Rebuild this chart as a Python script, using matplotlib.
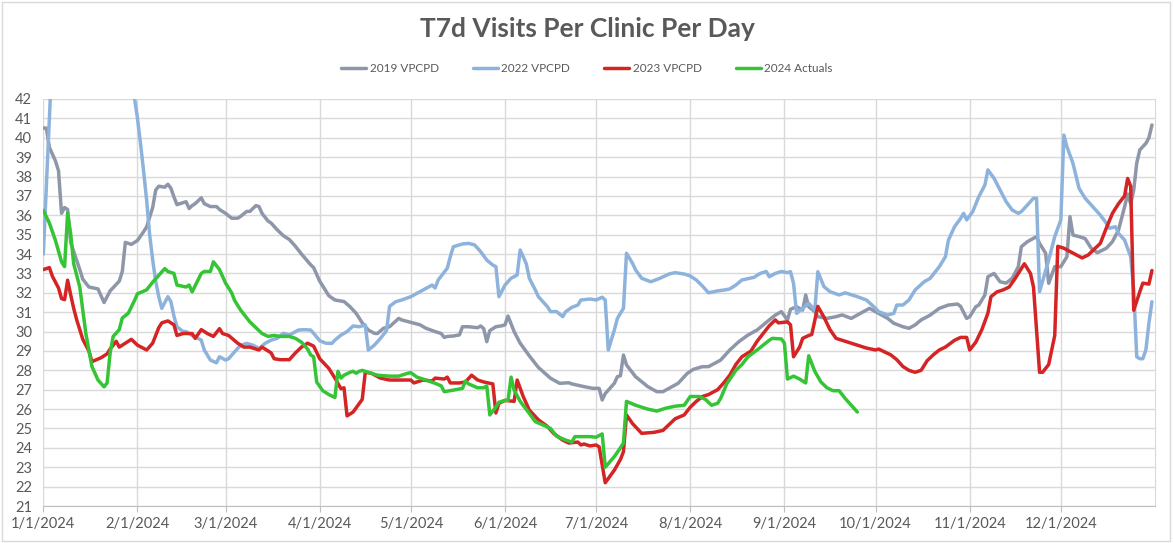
import numpy as np
import matplotlib
matplotlib.use("Agg")
import matplotlib.pyplot as plt
from matplotlib import font_manager
from matplotlib.patches import Rectangle

# days since 1/1/2024 and values
days_2019 = [0, 1, 2, 4, 5, 6, 7, 8, 9, 12, 13, 15, 18, 20, 22, 25, 26, 27, 29, 31, 33, 34, 36, 37, 38, 40,
             41, 42, 43, 44, 47, 48, 49, 50, 52, 53, 55, 57, 58, 60, 62, 64, 65, 67, 68, 70, 71, 72, 74, 75,
             77, 79, 81, 83, 85, 88, 89, 91, 94, 96, 99, 101, 103, 105, 107, 109, 110, 112, 114, 117, 118,
             122, 124, 126, 129, 131, 132, 133, 135, 137, 138, 140, 143, 144, 145, 146, 147, 149, 151, 152,
             153, 155, 157, 160, 163, 167, 170, 173, 174, 178, 181, 183, 184, 185, 188, 189, 190, 191, 192,
             195, 199, 202, 204, 207, 209, 212, 214, 217, 219, 223, 226, 229, 232, 235, 237, 239, 241, 243,
             245, 246, 248, 250, 251, 252, 254, 255, 258, 261, 263, 266, 269, 272, 275, 278, 280, 283, 285,
             287, 289, 292, 295, 298, 301, 302, 304, 305, 307, 308, 310, 311, 313, 315, 317, 319, 321, 322,
             324, 327, 328, 330, 331, 333, 335, 337, 338, 339, 341, 343, 345, 347, 350, 352, 354, 356, 357,
             358, 359, 360, 361, 363, 364, 365]
vals_2019 = [40.5, 40.5, 39.5, 38.8, 38.3, 36.1, 36.4, 36.3, 34.6, 33.2, 32.7, 32.3, 32.2, 31.5, 32.1, 32.6,
             33.1, 34.6, 34.5, 34.7, 35.15, 35.4, 36.4, 37.3, 37.5, 37.45, 37.6, 37.4, 36.95, 36.55, 36.7,
             36.35, 36.5, 36.6, 36.9, 36.6, 36.45, 36.45, 36.3, 36.1, 35.85, 35.85, 35.95, 36.2, 36.2, 36.5,
             36.45, 36.1, 35.7, 35.6, 35.25, 34.95, 34.75, 34.4, 34.0, 33.45, 33.3, 32.6, 31.85, 31.63, 31.55,
             31.28, 30.94, 30.45, 30.08, 29.91, 29.9, 30.17, 30.25, 30.68, 30.6, 30.43, 30.35, 30.17, 30.0,
             29.9, 29.7, 29.75, 29.77, 29.83, 30.25, 30.25, 30.2, 30.29, 30.15, 29.48, 30.05, 30.25, 30.3,
             30.35, 30.8, 30.0, 29.4, 28.75, 28.15, 27.59, 27.33, 27.36, 27.3, 27.16, 27.07, 27.07, 26.47,
             26.8, 27.33, 27.67, 27.72, 28.79, 28.28, 27.67, 27.16, 26.9, 26.9, 27.16, 27.33, 27.84, 28.05,
             28.19, 28.19, 28.53, 29.05, 29.48, 29.82, 30.08, 30.34, 30.6, 30.85, 31.03, 30.6, 31.15, 31.28,
             31.11, 31.89, 31.28, 31.03, 30.77, 30.68, 30.77, 30.86, 30.68, 30.94, 31.2, 30.94, 30.68, 30.43,
             30.25, 30.17, 30.34, 30.6, 30.85, 31.2, 31.37, 31.42, 31.3, 30.68, 30.77, 31.28, 31.37, 31.89,
             32.83, 33.0, 32.57, 32.5, 32.75, 33.35, 34.38, 34.64, 34.9, 34.55, 34.04, 32.49, 33.35, 33.35,
             33.86, 35.93, 34.98, 34.9, 34.8, 34.3, 34.07, 34.3, 34.64, 35.24, 36.44, 37.1, 36.6, 37.3, 38.7,
             39.37, 39.71, 40.0, 40.66]

days_2022 = [0, 3, 15, 28, 31, 32, 33, 34, 35, 36, 37, 38, 39, 41, 42, 43, 44, 46, 47, 49, 52, 53, 55, 57,
             58, 60, 61, 63, 65, 67, 69, 71, 73, 75, 77, 79, 81, 84, 86, 88, 89, 91, 93, 95, 96, 98, 100,
             102, 104, 106, 107, 109, 111, 113, 114, 116, 118, 121, 123, 126, 128, 129, 130, 133, 134, 135,
             138, 140, 142, 144, 146, 148, 149, 150, 152, 154, 156, 157, 159, 160, 162, 163, 166, 167, 169,
             171, 172, 174, 176, 177, 180, 182, 184, 185, 186, 188, 189, 191, 192, 194, 195, 197, 200, 203,
             206, 208, 211, 213, 215, 217, 219, 222, 224, 226, 228, 230, 234, 236, 238, 239, 241, 243, 245,
             246, 247, 248, 250, 252, 254, 255, 257, 259, 262, 264, 268, 271, 274, 275, 278, 280, 281, 283,
             285, 287, 290, 292, 295, 297, 298, 300, 302, 303, 304, 306, 308, 310, 311, 313, 315, 317, 319,
             321, 322, 324, 326, 327, 328, 331, 333, 335, 336, 337, 339, 341, 343, 345, 348, 350, 351, 353,
             354, 356, 358, 359, 360, 361, 362, 363, 364, 365]
vals_2022 = [34.0, 44.5, 47.0, 44.2, 41.0, 39.7, 38.3, 36.8, 35.0, 33.7, 32.6, 31.8, 31.2, 31.8, 31.55, 30.8,
             30.25, 30.0, 30.0, 29.8, 29.56, 29.05, 28.53, 28.39, 28.7, 28.53, 28.6, 28.96, 29.3, 29.39, 29.3,
             29.13, 29.39, 29.56, 29.65, 29.91, 29.82, 30.08, 30.1, 30.08, 29.91, 29.53, 29.4, 29.39, 29.56,
             29.82, 30.0, 30.29, 30.25, 30.34, 29.05, 29.3, 29.65, 30.05, 31.3, 31.54, 31.63, 31.8, 31.97,
             32.23, 32.4, 32.25, 32.66, 33.27, 33.87, 34.38, 34.52, 34.55, 34.47, 34.12, 33.69, 33.43, 33.35,
             31.8, 32.4, 32.75, 32.92, 34.21, 33.5, 32.75, 32.14, 31.8, 31.28, 31.03, 31.03, 30.77, 31.03,
             31.25, 31.37, 31.63, 31.68, 31.63, 31.77, 31.63, 29.05, 30.08, 30.68, 31.2, 34.04, 33.52, 33.18,
             32.75, 32.57, 32.75, 32.97, 33.04, 32.97, 32.87, 32.66, 32.35, 32.0, 32.1, 32.14, 32.2, 32.4,
             32.66, 32.8, 33.0, 33.1, 32.83, 33.0, 33.1, 33.04, 33.09, 32.49, 30.94, 31.2, 31.46, 31.11,
             33.09, 32.32, 32.06, 31.89, 32.0, 31.8, 31.63, 31.2, 31.03, 30.85, 30.94, 31.37, 31.37, 31.63,
             32.14, 32.57, 32.75, 33.35, 33.86, 34.72, 35.41, 35.84, 36.1, 35.76, 36.19, 36.96, 37.56, 38.34,
             37.91, 37.3, 36.7, 36.27, 36.1, 36.19, 36.53, 36.88, 36.88, 32.06, 33.69, 34.9, 35.76, 40.14,
             39.54, 38.68, 37.39, 36.88, 36.53, 36.01, 35.59, 35.33, 35.41, 35.07, 34.72, 33.86, 32.14, 28.7,
             28.6, 28.6, 29.05, 30.43, 31.54]

days_2023 = [0, 2, 3, 5, 6, 7, 8, 9, 10, 11, 13, 15, 16, 19, 21, 22, 24, 25, 27, 29, 31, 34, 36, 38, 39,
             41, 43, 44, 46, 49, 50, 52, 54, 56, 58, 59, 61, 64, 66, 68, 71, 72, 75, 76, 78, 81, 83, 85, 87,
             89, 91, 94, 96, 98, 99, 100, 102, 105, 106, 108, 111, 114, 117, 121, 122, 125, 128, 129, 132,
             133, 134, 137, 139, 141, 143, 145, 148, 149, 150, 152, 155, 156, 158, 160, 163, 166, 168, 171,
             173, 176, 177, 178, 180, 182, 183, 185, 188, 190, 191, 192, 194, 197, 201, 204, 206, 208, 211,
             213, 215, 217, 219, 222, 224, 226, 228, 230, 233, 235, 237, 239, 241, 242, 245, 246, 247, 249,
             250, 252, 253, 255, 257, 259, 261, 264, 268, 271, 274, 275, 277, 279, 281, 283, 285, 287, 289,
             291, 293, 295, 297, 300, 302, 304, 305, 307, 309, 311, 312, 314, 316, 318, 320, 322, 323, 325,
             326, 328, 329, 331, 332, 333, 334, 336, 339, 342, 344, 345, 348, 350, 352, 354, 356, 357, 358,
             359, 361, 362, 364, 365]
vals_2023 = [33.2, 33.3, 32.85, 32.25, 31.7, 31.65, 32.65, 31.9, 31.2, 30.6, 29.6, 29.0, 28.45, 28.65, 28.85,
             29.1, 29.5, 29.2, 29.4, 29.6, 29.3, 29.05, 29.4, 30.2, 30.45, 30.55, 30.35, 29.8, 29.9, 29.9,
             29.65, 30.1, 29.9, 29.75, 30.15, 29.9, 29.8, 29.4, 29.2, 29.2, 29.05, 29.2, 28.9, 28.6, 28.55,
             28.55, 28.9, 29.2, 29.4, 29.25, 28.6, 28.1, 27.6, 27.05, 27.1, 25.65, 25.85, 26.5, 27.9, 27.85,
             27.6, 27.5, 27.5, 27.5, 27.35, 27.5, 27.45, 27.6, 27.55, 27.65, 27.35, 27.35, 27.4, 27.75, 27.5,
             27.4, 27.3, 25.8, 26.3, 26.45, 26.4, 27.5, 26.65, 25.95, 25.45, 25.1, 24.75, 24.4, 24.25, 24.3,
             24.15, 24.2, 24.1, 24.15, 24.05, 22.2, 22.85, 23.4, 23.8, 25.7, 25.25, 24.75, 24.8, 24.9, 25.2,
             25.5, 25.7, 26.1, 26.4, 26.65, 26.75, 27.0, 27.35, 27.75, 28.3, 28.7, 29.0, 29.5, 29.9, 30.3,
             30.6, 30.45, 30.5, 30.35, 28.7, 29.2, 29.65, 29.8, 29.85, 31.3, 30.75, 30.1, 29.65, 29.5, 29.3,
             29.15, 29.05, 29.1, 28.95, 28.8, 28.55, 28.2, 28.0, 27.9, 28.0, 28.5, 28.8, 29.05, 29.2, 29.55,
             29.7, 29.7, 29.05, 29.45, 30.1, 30.95, 31.8, 32.05, 32.15, 32.3, 32.75, 33.25, 33.5, 33.0, 32.3,
             27.9, 27.9, 28.3, 29.05, 29.8, 34.4, 34.3, 34.05, 33.8, 33.95, 34.1, 34.55, 35.35, 36.1, 36.6,
             37.0, 37.9, 37.5, 31.1, 32.05, 32.5, 32.45, 33.15]

days_2024 = [0, 2, 4, 6, 7, 8, 9, 10, 12, 13, 14, 15, 16, 18, 20, 21, 22, 23, 25, 26, 28, 30, 31, 34, 36,
             38, 40, 41, 43, 44, 47, 48, 49, 52, 53, 55, 56, 58, 60, 62, 63, 65, 68, 70, 72, 74, 76, 78, 81,
             83, 85, 87, 88, 89, 90, 92, 94, 96, 97, 98, 99, 101, 102, 103, 104, 105, 107, 110, 114, 117,
             120, 121, 123, 126, 129, 131, 132, 135, 138, 139, 140, 143, 145, 146, 147, 149, 150, 152, 153,
             154, 155, 157, 160, 162, 165, 167, 169, 172, 174, 175, 177, 180, 182, 184, 185, 188, 190, 191,
             192, 195, 199, 202, 205, 208, 211, 213, 216, 218, 220, 222, 223, 225, 228, 230, 232, 235, 237,
             239, 240, 243, 244, 245, 247, 249, 251, 252, 254, 256, 258, 260, 262, 264, 266, 268]
vals_2024 = [36.25, 35.6, 34.7, 33.6, 33.35, 36.1, 35.05, 33.5, 32.3, 31.1, 29.9, 29.05, 28.2, 27.5, 27.15,
             27.35, 28.9, 29.75, 30.1, 30.7, 30.95, 31.6, 31.95, 32.15, 32.55, 32.9, 33.25, 33.1, 33.0, 32.4,
             32.3, 32.4, 32.05, 33.0, 33.1, 33.1, 33.6, 33.2, 32.5, 32.0, 31.6, 31.1, 30.5, 30.2, 29.9, 29.75,
             29.8, 29.75, 29.75, 29.65, 29.45, 29.1, 28.8, 28.7, 27.4, 26.95, 26.75, 26.6, 27.95, 27.6, 27.75,
             27.9, 27.95, 27.85, 27.95, 28.0, 27.9, 27.75, 27.7, 27.7, 27.85, 27.88, 27.65, 27.5, 27.33, 27.2,
             26.9, 26.98, 27.07, 27.45, 27.3, 27.1, 27.1, 27.2, 25.7, 26.1, 26.35, 26.45, 26.45, 27.65, 26.98,
             26.4, 25.78, 25.35, 25.15, 25.0, 24.6, 24.4, 24.3, 24.58, 24.58, 24.58, 24.55, 24.72, 23.0, 23.55,
             24.0, 24.25, 26.4, 26.2, 26.0, 25.9, 26.05, 26.15, 26.2, 26.65, 26.65, 26.5, 26.2, 26.3, 26.55,
             27.3, 28.0, 28.3, 28.7, 29.05, 29.3, 29.55, 29.65, 29.62, 29.4, 27.55, 27.7, 27.55, 27.35, 28.75,
             27.95, 27.4, 27.1, 26.95, 26.95, 26.55, 26.2, 25.85]

series_names = ['2019 VPCPD', '2022 VPCPD', '2023 VPCPD', '2024 Actuals']
month_labels = ['%d/1/2024' % m for m in range(1, 13)]

available = {f.name for f in font_manager.fontManager.ttflist}
font = 'Liberation Sans Narrow' if 'Liberation Sans Narrow' in available else 'Lato'
plt.rcParams['font.family'] = [font, 'DejaVu Sans']
text_color = '#595959'
grid_color = '#d9d9d9'

start = np.datetime64('2024-01-01')


def to_dates(days):
    return start + np.array(days, dtype='timedelta64[D]')


fig = plt.figure(figsize=(11.74, 5.43), dpi=100)
ax = fig.add_axes([0.0369, 0.0681, 0.9469, 0.7496])

colors = ['#8e96a9', '#8db3dc', '#d42424', '#35c435']
all_days = [days_2019, days_2022, days_2023, days_2024]
all_vals = [vals_2019, vals_2022, vals_2023, vals_2024]
for d, v, c, name in zip(all_days, all_vals, colors, series_names):
    ax.plot(to_dates(d), v, color=c, lw=2.5, label=name,
            solid_joinstyle='round', solid_capstyle='round')

ax.set_ylim(21, 42)
ax.set_yticks(range(21, 43))
months = np.arange('2024-01', '2025-01', dtype='datetime64[M]').astype('datetime64[D]')
ax.set_xticks(months)
ax.set_xticklabels(month_labels)
ax.set_xlim(start, np.datetime64('2025-01-01'))

ax.grid(True, color=grid_color, lw=1)
ax.set_axisbelow(True)
for side in ['top', 'left']:
    ax.spines[side].set_visible(False)
ax.spines['right'].set_color(grid_color)
ax.spines['bottom'].set_color('#bfbfbf')
ax.tick_params(axis='y', length=0, labelsize=10.5, colors=text_color, pad=8)
ax.tick_params(axis='x', length=4, color='#bfbfbf', labelsize=10.5, labelcolor=text_color, pad=4)

fig.suptitle('T7d Visits Per Clinic Per Day', y=0.968, fontsize=19, fontweight='bold', color=text_color)
fig.legend(loc='center', bbox_to_anchor=(0.5, 0.873), ncol=4, frameon=False, fontsize=8.5,
           handlelength=2.1, columnspacing=2.9, handletextpad=0.3, labelcolor=text_color)

fig.patches.append(Rectangle((0.002, 0.004), 0.995, 0.993, transform=fig.transFigure,
                             fill=False, edgecolor=grid_color, lw=1))

fig.savefig('out.png', dpi=100)
